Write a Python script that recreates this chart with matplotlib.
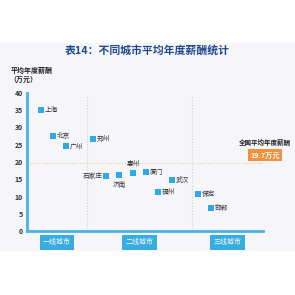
import matplotlib.pyplot as plt
from matplotlib.patches import Rectangle

plt.rcParams['font.family'] = ['Noto Sans CJK SC', 'DejaVu Sans']

# city data: horizontal position on chart, average salary (10k yuan)
cities = ['上海', '北京', '广州', '郑州', '石家庄', '济南', '惠州', '厦门',
          '福州', '武汉', '保定', '邯郸']
xpos = [14, 26, 39, 66, 79, 92, 106, 119, 131, 145, 171, 184]
salary = [35.0, 27.5, 24.6, 26.6, 16.0, 16.1, 16.8, 17.0, 11.2, 14.7, 10.7, 6.7]
label_side = ['r', 'r', 'r', 'r', 'l', 'b', 't', 'r', 'r', 'r', 'r', 'r']

tiers = ['一线城市', '二线城市', '三线城市']
tier_bounds = [0, 60, 165, 236]
national_avg = 19.7
yticks = [0, 5, 10, 15, 20, 25, 30, 35, 40]

blue = '#2ea9e1'
fig = plt.figure(figsize=(2.95, 2.95), dpi=100)
fig.patches.append(Rectangle((0, 0.153), 1, 0.702, transform=fig.transFigure,
                             color='#f6f5f9', zorder=-5))

ax = fig.add_axes([27 / 295, 1 - 231 / 295, 236 / 295, 138 / 295])
ax.set_facecolor('none')
ax.set_xlim(0, 236)
ax.set_ylim(0, 40)
for s in ['top', 'right']:
    ax.spines[s].set_visible(False)
for s in ['left', 'bottom']:
    ax.spines[s].set_color('#4ab2e3')
    ax.spines[s].set_linewidth(2)
ax.set_xticks([])
ax.set_yticks(yticks)
ax.tick_params(axis='y', length=0, labelsize=5, labelcolor='#333333', pad=3)
for t in ax.get_yticklabels():
    t.set_fontweight('bold')

for b in tier_bounds[1:3]:
    ax.plot([b, b], [0, 39], color='#c3d6e2', lw=0.8, ls=(0, (1, 1.5)), zorder=1)
ax.plot([0, 236], [national_avg, national_avg], color='#ecc09c', lw=0.8,
        ls=(0, (1, 1.5)), zorder=1)

ax.scatter(xpos, salary, marker='s', s=16, color=blue, zorder=3, linewidths=0)
fs = 4.8
for name, x, y, side in zip(cities, xpos, salary, label_side):
    if side == 'r':
        ax.text(x + 3.5, y, name, fontsize=fs, va='center', ha='left', color='#333333')
    elif side == 'l':
        ax.text(x - 3.5, y, name, fontsize=fs, va='center', ha='right', color='#333333')
    elif side == 'b':
        ax.text(x, y - 1.5, name, fontsize=fs, va='top', ha='center', color='#333333')
    else:
        ax.text(x, y + 1.5, name, fontsize=fs, va='bottom', ha='center', color='#333333')

for i, name in enumerate(tiers):
    cx = (tier_bounds[i] + tier_bounds[i + 1]) / 2
    ax.text(cx, -3.3, name, fontsize=5, color='white', ha='center', va='center',
            bbox=dict(boxstyle='square,pad=0.45', fc='#37ace0', ec='none'))

ax.text(238, national_avg + 6, '全国平均年度薪酬', fontsize=4.7, fontweight='bold',
        ha='center', va='center', color='#222222', clip_on=False)
ax.text(238, national_avg + 2.3, '19.7万元', fontsize=5.2, fontweight='bold',
        ha='center', va='center', color='white', clip_on=False,
        bbox=dict(boxstyle='square,pad=0.35', fc='#f0913f', ec='none'))

fig.text(0.5, 1 - 50 / 295, '表14：不同城市平均年度薪酬统计', fontsize=7.8,
         fontweight='bold', color='#1f4a8a', ha='center', va='center')
fig.text(11 / 295, 1 - 70 / 295, '平均年度薪酬', fontsize=5, fontweight='bold',
         color='#222222', ha='left', va='center')
fig.text(9 / 295, 1 - 80 / 295, '（万元）', fontsize=5, fontweight='bold',
         color='#222222', ha='left', va='center')

fig.savefig('out.png', dpi=100)
